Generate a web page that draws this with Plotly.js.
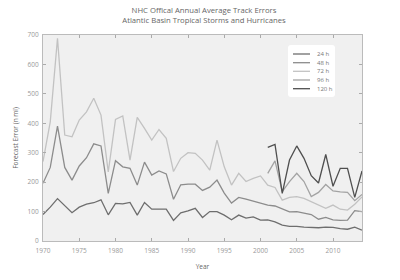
<!DOCTYPE html>
<html>
<head>
<meta charset="utf-8">
<script src="https://cdn.plot.ly/plotly-3.0.1.min.js"></script>
<style>html,body{margin:0;padding:0;background:#fff;}#chart{width:400px;height:280px;}</style>
</head>
<body>
<div id="chart"></div>
<script>
var yearsAll = [1970,1971,1972,1973,1974,1975,1976,1977,1978,1979,1980,1981,1982,1983,1984,1985,1986,1987,1988,1989,1990,1991,1992,1993,1994,1995,1996,1997,1998,1999,2000,2001,2002,2003,2004,2005,2006,2007,2008,2009,2010,2011,2012,2013,2014];
var yearsLong = [2001,2002,2003,2004,2005,2006,2007,2008,2009,2010,2011,2012,2013,2014];

var err24 = [90,115,144,120,96,115,125,130,140,89,128,126,131,88,131,108,108,108,70,96,102,111,80,100,100,88,72,88,78,82,71,72,65,54,50,50,47,46,45,47,46,42,40,47,37];
var err48 = [196,250,390,250,207,255,283,330,323,162,273,252,247,190,268,224,238,228,142,191,193,193,172,183,207,163,129,148,142,135,128,122,119,108,99,100,95,90,74,80,72,70,71,103,100];
var err72 = [270,405,689,360,354,411,439,485,428,235,413,425,275,420,383,343,379,349,236,281,300,298,275,241,343,252,190,230,202,213,221,190,182,139,148,151,145,134,124,111,122,108,105,125,150];
var err96 = [230,272,168,202,230,202,151,165,192,170,167,165,137,158];
var err120 = [318,328,162,275,323,281,222,197,294,186,247,247,148,238];

var seriesNames = ["24 h","48 h","72 h","96 h","120 h"];
var seriesColors = ["#6e6e6e","#8c8c8c","#c2c2c2","#a3a3a3","#4f4f4f"];

var xs = [yearsAll, yearsAll, yearsAll, yearsLong, yearsLong];
var ys = [err24, err48, err72, err96, err120];

var traces = ys.map(function(v, i){
  return {x: xs[i], y: v, type: 'scatter', mode: 'lines', name: seriesNames[i],
          line: {color: seriesColors[i], width: 1.3}, showlegend: false};
});

// plot area in pixels (for the hand-drawn legend box)
var L = 43, R = 362, T = 35, B = 241;
function px(x){ return (x - L) / (R - L); }
function py(y){ return (B - y) / (B - T); }

// legend box with rounded corners
var bx0 = px(288), bx1 = px(335), by0 = py(97), by1 = py(45);
var rx = 3 / (R - L), ry = 3 / (B - T);
var boxPath = 'M ' + (bx0 + rx) + ',' + by1 +
  ' L ' + (bx1 - rx) + ',' + by1 + ' Q ' + bx1 + ',' + by1 + ' ' + bx1 + ',' + (by1 - ry) +
  ' L ' + bx1 + ',' + (by0 + ry) + ' Q ' + bx1 + ',' + by0 + ' ' + (bx1 - rx) + ',' + by0 +
  ' L ' + (bx0 + rx) + ',' + by0 + ' Q ' + bx0 + ',' + by0 + ' ' + bx0 + ',' + (by0 + ry) +
  ' L ' + bx0 + ',' + (by1 - ry) + ' Q ' + bx0 + ',' + by1 + ' ' + (bx0 + rx) + ',' + by1 + ' Z';

var shapes = [{type: 'path', xref: 'paper', yref: 'paper', path: boxPath, fillcolor: '#ffffff', line: {width: 0}, layer: 'above'}];
var annotations = [];
var rowY = [54, 62.7, 71.3, 80, 88.7];
seriesNames.forEach(function(n, i){
  shapes.push({type: 'line', xref: 'paper', yref: 'paper', x0: px(293), x1: px(310), y0: py(rowY[i]), y1: py(rowY[i]),
               line: {color: seriesColors[i], width: 1.3}, layer: 'above'});
  annotations.push({xref: 'paper', yref: 'paper', x: px(315), y: py(rowY[i]), xanchor: 'left', yanchor: 'middle',
                    text: n, showarrow: false, font: {family: 'Open Sans', size: 6, color: '#777'}});
});

var axisCommon = {
  showgrid: false, zeroline: false, showline: true, linecolor: '#bbbbbb', linewidth: 1,
  mirror: 'ticks', ticks: 'inside', ticklen: 3, tickcolor: '#aaa',
  tickfont: {family: 'Open Sans', size: 6.5, color: '#999'}
};

var layout = {
  width: 400, height: 280,
  margin: {l: 43, r: 38, t: 35, b: 39},
  paper_bgcolor: '#ffffff', plot_bgcolor: '#f0f0f0',
  font: {family: 'Open Sans', color: '#555'},
  title: {text: 'NHC Offical Annual Average Track Errors<br>Atlantic Basin Tropical Storms and Hurricanes',
          font: {family: 'Open Sans', size: 7.7, color: '#666'}, x: 0.51, xanchor: 'center', y: 0.953, yanchor: 'top'},
  xaxis: Object.assign({}, axisCommon, {range: [1970, 2014], dtick: 5, tick0: 1970, ticklabelstandoff: 3,
          title: {text: 'Year', font: {family: 'Open Sans', size: 6.5, color: '#666'}, standoff: 10}}),
  yaxis: Object.assign({}, axisCommon, {range: [0, 700], dtick: 100, ticklabelstandoff: 2,
          title: {text: 'Forecast Error (n mi)', font: {family: 'Open Sans', size: 6.5, color: '#666'}, standoff: 8}}),
  showlegend: false,
  shapes: shapes,
  annotations: annotations
};

Plotly.newPlot('chart', traces, layout, {displayModeBar: false, staticPlot: true});
</script>
</body>
</html>
